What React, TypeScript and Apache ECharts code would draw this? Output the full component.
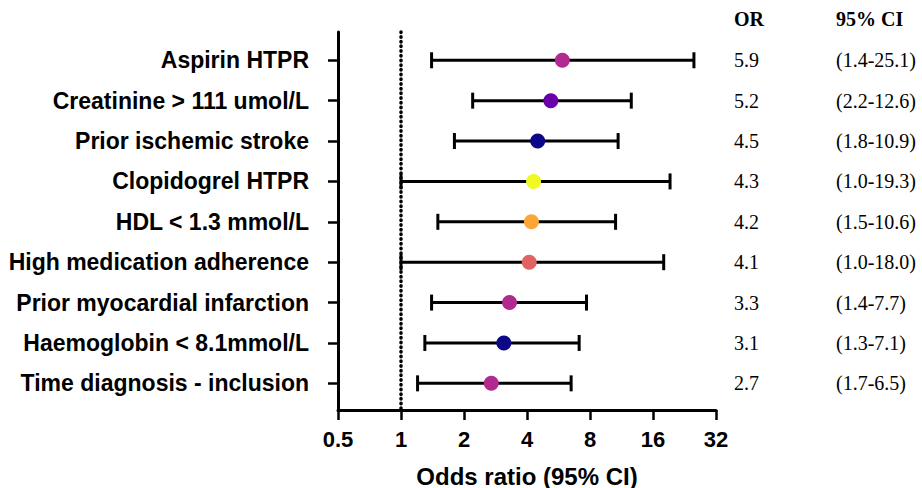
import React, { useEffect, useRef } from "react";
import * as echarts from "echarts";

const categories = [
  "Aspirin HTPR",
  "Creatinine > 111 umol/L",
  "Prior ischemic stroke",
  "Clopidogrel HTPR",
  "HDL < 1.3 mmol/L",
  "High medication adherence",
  "Prior myocardial infarction",
  "Haemoglobin < 8.1mmol/L",
  "Time diagnosis - inclusion",
];
const oddsRatio = [5.9, 5.2, 4.5, 4.3, 4.2, 4.1, 3.3, 3.1, 2.7];
const lowerCI = [1.4, 2.2, 1.8, 1.0, 1.5, 1.0, 1.4, 1.3, 1.2];
const upperCI = [25.1, 12.6, 10.9, 19.3, 10.6, 18.0, 7.7, 7.1, 6.5];
const orLabels = ["5.9", "5.2", "4.5", "4.3", "4.2", "4.1", "3.3", "3.1", "2.7"];
const ciLabels = [
  "(1.4-25.1)",
  "(2.2-12.6)",
  "(1.8-10.9)",
  "(1.0-19.3)",
  "(1.5-10.6)",
  "(1.0-18.0)",
  "(1.4-7.7)",
  "(1.3-7.1)",
  "(1.7-6.5)",
];
const pointColors = [
  "#b12a90",
  "#6a00a8",
  "#0d0887",
  "#f0f921",
  "#fca636",
  "#e16462",
  "#b12a90",
  "#0d0887",
  "#b12a90",
];
const xTicks = [0.5, 1, 2, 4, 8, 16, 32];

export default function App() {
  const ref = useRef<HTMLDivElement>(null);
  useEffect(() => {
    if (!ref.current) return;
    document.body.style.margin = "0";
    const chart = echarts.init(ref.current, undefined, { renderer: "svg" });
    const rows = categories.map((_, i) => i + 1);
    const sans = "'Liberation Sans', Arial, sans-serif";
    const serif = "'Liberation Serif', 'Times New Roman', serif";
    chart.setOption({
      animation: false,
      grid: {
        left: 338,
        right: 206,
        top: 32,
        bottom: 78,
        containLabel: false,
        outerBoundsMode: "none",
      },
      xAxis: {
        type: "log",
        logBase: 2,
        min: 0.5,
        max: 32,
        splitNumber: 6,
        name: "Odds ratio (95% CI)",
        nameLocation: "middle",
        nameGap: 55,
        nameTextStyle: {
          fontFamily: sans,
          fontWeight: "bold",
          fontSize: 24,
          lineHeight: 22,
          color: "#000",
        },
        axisLine: { lineStyle: { color: "#000", width: 3 } },
        axisTick: { lineStyle: { color: "#000", width: 2.5 }, length: 10 },
        axisLabel: {
          fontFamily: sans,
          fontWeight: "bold",
          fontSize: 22,
          color: "#000",
          margin: 18,
          formatter: (v: number) => {
            const t = xTicks.find((x) => Math.abs(x - v) < 1e-6);
            return t === undefined ? String(+v.toFixed(2)) : String(t);
          },
        },
        splitLine: { show: false },
      },
      yAxis: [
        {
          type: "value",
          min: 0.3,
          max: 9.66,
          inverse: true,
          axisLine: { show: true, lineStyle: { color: "#000", width: 3 } },
          axisTick: { show: true, customValues: rows, length: 10, lineStyle: { color: "#000", width: 2.5 } },
          axisLabel: {
            customValues: rows,
            fontFamily: sans,
            fontWeight: "bold",
            fontSize: 23,
            color: "#000",
            margin: 29,
            formatter: (v: number) => categories[Math.round(v) - 1] ?? "",
          },
          splitLine: { show: false },
        },
        {
          type: "value",
          min: 0.3,
          max: 9.66,
          inverse: true,
          position: "right",
          axisLine: { show: false },
          axisTick: { show: false },
          axisLabel: {
            customValues: rows,
            margin: 18,
            formatter: (v: number) => {
              const i = Math.round(v) - 1;
              return `{a|${orLabels[i] ?? ""}}{b|${ciLabels[i] ?? ""}}`;
            },
            rich: {
              a: { fontFamily: serif, fontSize: 20, color: "#000", width: 102 },
              b: { fontFamily: serif, fontSize: 20, color: "#000" },
            },
          },
          splitLine: { show: false },
        },
      ],
      graphic: [
        {
          type: "text",
          left: 734,
          top: 9,
          style: { text: "OR", font: `bold 20px ${serif}`, fill: "#000" },
        },
        {
          type: "text",
          left: 836,
          top: 9,
          style: { text: "95% CI", font: `bold 20px ${serif}`, fill: "#000" },
        },
      ],
      series: [
        {
          type: "custom",
          xAxisIndex: 0,
          yAxisIndex: 0,
          data: rows.map((r, i) => [lowerCI[i], upperCI[i], r]),
          renderItem: (params: any, api: any) => {
            const p1 = api.coord([api.value(0), api.value(2)]);
            const p2 = api.coord([api.value(1), api.value(2)]);
            const h = 8;
            const style = { stroke: "#000", lineWidth: 3 };
            return {
              type: "group",
              children: [
                { type: "line", shape: { x1: p1[0], y1: p1[1], x2: p2[0], y2: p2[1] }, style },
                { type: "line", shape: { x1: p1[0], y1: p1[1] - h, x2: p1[0], y2: p1[1] + h }, style },
                { type: "line", shape: { x1: p2[0], y1: p2[1] - h, x2: p2[0], y2: p2[1] + h }, style },
              ],
            };
          },
          z: 2,
        },
        {
          type: "scatter",
          xAxisIndex: 0,
          yAxisIndex: 0,
          symbol: "circle",
          symbolSize: 15,
          itemStyle: { opacity: 1 },
          data: rows.map((r, i) => ({
            value: [oddsRatio[i], r],
            itemStyle: { color: pointColors[i], opacity: 1 },
          })),
          markLine: {
            silent: true,
            symbol: "none",
            label: { show: false },
            lineStyle: { color: "#000", width: 3.5, type: [0.5, 4.2], cap: "round" },
            data: [{ xAxis: 1 }],
          },
          z: 3,
        },
      ],
    });
    return () => chart.dispose();
  }, []);
  return <div ref={ref} style={{ width: 922, height: 488 }} />;
}
